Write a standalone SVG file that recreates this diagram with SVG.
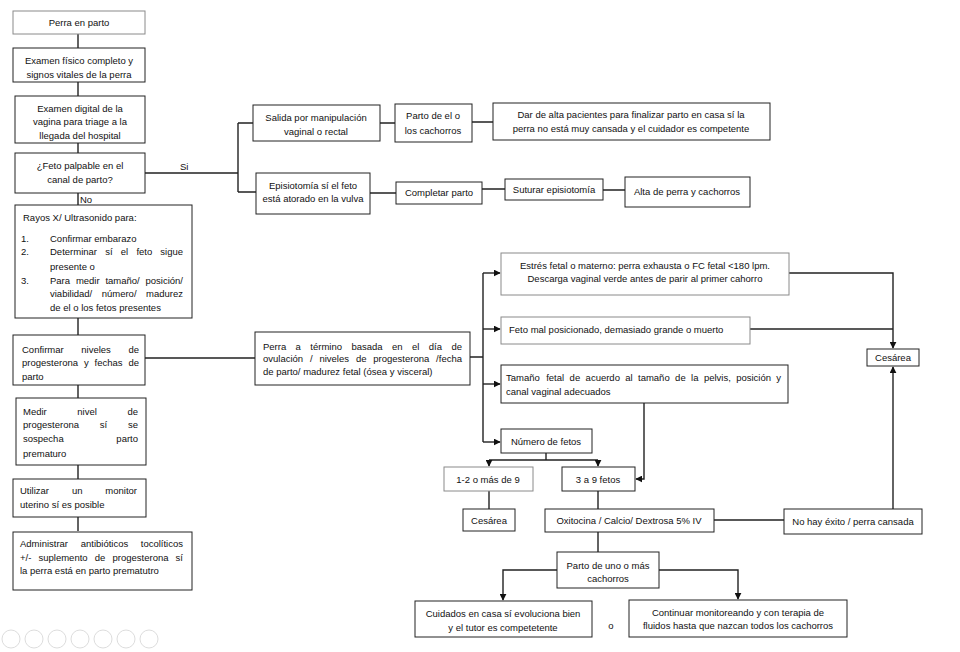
<svg xmlns="http://www.w3.org/2000/svg" width="960" height="652" viewBox="0 0 960 652">
<defs>
<style>
.b{fill:#fff;stroke:#222;stroke-width:1}
.g{fill:#fff;stroke:#8a8a8a;stroke-width:1}
text{font-family:"Liberation Sans",Arial,sans-serif;font-size:9.5px;fill:#111}
.c{text-anchor:middle}
.e{text-anchor:end}
.l{fill:none;stroke:#222;stroke-width:1.4}
.p{fill:#fff;stroke:#ddd;stroke-width:1}
</style>
<marker id="ah" viewBox="0 0 10 10" refX="9" refY="5" markerWidth="5" markerHeight="5" orient="auto"><path d="M0,0 L10,5 L0,10 z" fill="#111"/></marker>
</defs>
<rect width="960" height="652" fill="#fff"/>

<g id="connectors">
<path class="l" d="M78,34V48M78,82V96M78,143V153M78,193V205M78,318V335M78,385V398M78,465V479M78,517V531"/>
<path class="l" d="M145,173H238M238,123V192M238,123H253M238,192H256"/>
<path class="l" d="M380,123H395M472,122H493"/>
<path class="l" d="M370,193H396M482,189H505M603,190H625"/>
<path class="l" d="M145,358H255M470,357H483M483,273V442"/>
<path class="l" d="M483,273H500" marker-end="url(#ah)"/>
<path class="l" d="M483,329H500" marker-end="url(#ah)"/>
<path class="l" d="M483,384H500" marker-end="url(#ah)"/>
<path class="l" d="M483,442H500" marker-end="url(#ah)"/>
<path class="l" d="M789,273H893V348" marker-end="url(#ah)"/>
<path class="l" d="M750,329H893"/>
<path class="l" d="M893,509V367" marker-end="url(#ah)"/>
<path class="l" d="M644,403V479H636" marker-end="url(#ah)"/>
<path class="l" d="M546,453V460M489,460H598"/>
<path class="l" d="M489,460V466" marker-end="url(#ah)"/>
<path class="l" d="M598,460V466" marker-end="url(#ah)"/>
<path class="l" d="M489,491V509M598,491V509M714,520H784M598,532V552"/>
<path class="l" d="M557,570H503V600" marker-end="url(#ah)"/>
<path class="l" d="M659,570H738V599" marker-end="url(#ah)"/>
</g>

<g id="n1"><rect class="g" x="13" y="11" width="132" height="23"/><text class="c" x="79" y="26">Perra en parto</text></g>
<g id="n2"><rect class="b" x="13" y="48" width="132" height="34"/><text class="c" x="79" y="64">Examen físico completo y</text><text class="c" x="79" y="77.5">signos vitales de la perra</text></g>
<g id="n3"><rect class="b" x="15" y="96" width="130" height="47"/><text class="c" x="80" y="111.5">Examen digital de la</text><text class="c" x="80" y="125">vagina para triage a la</text><text class="c" x="80" y="138.5">llegada del hospital</text></g>
<g id="n4"><rect class="b" x="15" y="153" width="130" height="40"/><text class="c" x="80" y="168.5">¿Feto palpable en el</text><text class="c" x="80" y="182.5">canal de parto?</text></g>
<text x="180" y="169.5">Si</text>
<text x="80" y="203">No</text>

<g id="n5"><rect class="b" x="15" y="205" width="177" height="113"/>
<text x="23" y="220.5">Rayos X/ Ultrasonido para:</text>
<text x="21" y="241.5">1.</text><text x="50" y="241.5">Confirmar embarazo</text>
<text x="21" y="254.5">2.</text><text x="50" y="254.5">Determinar</text><text x="105.2" y="254.5">sí</text><text x="120.8" y="254.5">el</text><text x="136.4" y="254.5">feto</text><text class="e" x="183" y="254.5">sigue</text>
<text x="50" y="270">presente o</text>
<text x="21" y="283.5">3.</text><text x="50" y="283.5">Para</text><text x="75.9" y="283.5">medir</text><text x="105.4" y="283.5">tamaño/</text><text class="e" x="183" y="283.5">posición/</text>
<text x="50" y="296.5">viabilidad/</text><text x="101.7" y="296.5">número/</text><text class="e" x="183" y="296.5">madurez</text>
<text x="50" y="311">de el o los fetos presentes</text>
</g>

<g id="n6"><rect class="b" x="13" y="335" width="132" height="50"/>
<text x="22" y="352.5">Confirmar</text><text x="81.3" y="352.5">niveles</text><text class="e" x="139" y="352.5">de</text>
<text x="22" y="366">progesterona</text><text x="83.9" y="366">y</text><text x="94.5" y="366">fechas</text><text class="e" x="139" y="366">de</text>
<text x="22" y="379.5">parto</text>
</g>

<g id="n7"><rect class="b" x="16" y="398" width="130" height="67"/>
<text x="23" y="414.5">Medir</text><text x="77.3" y="414.5">nivel</text><text class="e" x="138" y="414.5">de</text>
<text x="23" y="428">progesterona</text><text x="99.8" y="428">sí</text><text class="e" x="138" y="428">se</text>
<text x="23" y="441.5">sospecha</text><text class="e" x="138" y="441.5">parto</text>
<text x="23" y="456.5">prematuro</text>
</g>

<g id="n8"><rect class="b" x="13" y="479" width="133" height="38"/>
<text x="20" y="493.5">Utilizar</text><text x="71.9" y="493.5">un</text><text class="e" x="137" y="493.5">monitor</text>
<text x="20" y="507.5">uterino sí es posible</text>
</g>

<g id="n9"><rect class="b" x="13" y="532" width="179" height="58"/>
<text x="20" y="546.5">Administrar</text><text x="80.7" y="546.5">antibióticos</text><text class="e" x="183" y="546.5">tocolíticos</text>
<text x="20" y="560.5">+/-</text><text x="38.5" y="560.5">suplemento</text><text x="94.7" y="560.5">de</text><text x="112.5" y="560.5">progesterona</text><text class="e" x="183" y="560.5">sí</text>
<text x="20" y="574">la perra está en parto prematutro</text>
</g>

<g id="n10"><rect class="b" x="253" y="105" width="127" height="36"/><text class="c" x="316" y="120.5">Salida por manipulación</text><text class="c" x="316" y="134.5">vaginal o rectal</text></g>
<g id="n11"><rect class="b" x="256" y="173" width="114" height="41"/><text class="c" x="313" y="188.5">Episiotomía sí el feto</text><text class="c" x="313" y="202">está atorado en la vulva</text></g>
<g id="n12"><rect class="b" x="395" y="104" width="77" height="38"/><text class="c" x="433" y="119">Parto de el o</text><text class="c" x="433" y="133.5">los cachorros</text></g>
<g id="n13"><rect class="b" x="493" y="103" width="277" height="37"/><text class="c" x="631" y="117.5">Dar de alta pacientes para finalizar parto en casa sí la</text><text class="c" x="631" y="131.5">perra no está muy cansada y el cuidador es competente</text></g>
<g id="n14"><rect class="b" x="396" y="182" width="86" height="22"/><text class="c" x="439" y="196">Completar parto</text></g>
<g id="n15"><rect class="b" x="505" y="179" width="98" height="21"/><text class="c" x="554" y="193">Suturar episiotomía</text></g>
<g id="n16"><rect class="b" x="625" y="177" width="125" height="30"/><text class="c" x="687" y="194.5">Alta de perra y cachorros</text></g>

<g id="n17"><rect class="b" x="255" y="332" width="215" height="53"/>
<text x="263" y="349.5">Perra</text><text x="295.6" y="349.5">a</text><text x="310.3" y="349.5">término</text><text x="351.4" y="349.5">basada</text><text x="392" y="349.5">en</text><text x="412" y="349.5">el</text><text x="428.8" y="349.5">día</text><text class="e" x="462" y="349.5">de</text>
<text x="263" y="362">ovulación</text><text x="310" y="362">/</text><text x="319.4" y="362">niveles</text><text x="355.9" y="362">de</text><text x="373.3" y="362">progesterona</text><text class="e" x="462" y="362">/fecha</text>
<text x="263" y="374.5">de parto/ madurez fetal (ósea y visceral)</text>
</g>

<g id="n18"><rect class="g" x="501" y="253" width="288" height="42"/><text class="c" x="645" y="268.5">Estrés fetal o materno: perra exhausta o FC fetal &lt;180 lpm.</text><text class="c" x="645" y="282">Descarga vaginal  verde antes de parir al primer cahorro</text></g>
<g id="n19"><rect class="g" x="501" y="317" width="249" height="27"/><text x="509" y="333">Feto mal posicionado, demasiado grande o muerto</text></g>
<g id="n20"><rect class="b" x="501" y="365" width="287" height="38"/>
<text x="506" y="380.5">Tamaño</text><text x="546.2" y="380.5">fetal</text><text x="569.6" y="380.5">de</text><text x="585.6" y="380.5">acuerdo</text><text x="625.2" y="380.5">al</text><text x="638" y="380.5">tamaño</text><text x="675.1" y="380.5">de</text><text x="691.1" y="380.5">la</text><text x="703.9" y="380.5">pelvis,</text><text x="736.2" y="380.5">posición</text><text class="e" x="781" y="380.5">y</text>
<text x="506" y="394.5">canal vaginal adecuados</text>
</g>
<g id="n21"><rect class="b" x="867" y="349" width="52" height="17"/><text class="c" x="893" y="361">Cesárea</text></g>
<g id="n22"><rect class="b" x="501" y="429" width="91" height="24"/><text class="c" x="546" y="444.5">Número de fetos</text></g>
<g id="n23"><rect class="g" x="444" y="467" width="89" height="24"/><text class="c" x="488" y="482.5">1-2 o más de 9</text></g>
<g id="n24"><rect class="b" x="562" y="467" width="73" height="24"/><text class="c" x="598" y="482.5">3 a 9 fetos</text></g>
<g id="n25"><rect class="b" x="463" y="509" width="52" height="22"/><text class="c" x="489" y="523.5">Cesárea</text></g>
<g id="n26"><rect class="b" x="545" y="509" width="169" height="23"/><text class="c" x="629" y="524">Oxitocina / Calcio/ Dextrosa 5% IV</text></g>
<g id="n27"><rect class="b" x="784" y="509" width="138" height="25"/><text class="c" x="853" y="524.5">No hay éxito / perra cansada</text></g>
<g id="n28"><rect class="b" x="557" y="552" width="102" height="36"/><text class="c" x="608" y="568.5">Parto de uno o más</text><text class="c" x="608" y="582">cachorros</text></g>
<g id="n29"><rect class="b" x="415" y="601" width="177" height="36"/><text class="c" x="503" y="616.5">Cuidados en casa sí evoluciona bien</text><text class="c" x="503" y="630.5">y el tutor es competetente</text></g>
<text class="c" x="611" y="628.5">o</text>
<g id="n30"><rect class="b" x="629" y="600" width="218" height="37"/><text class="c" x="738" y="615.5">Continuar monitoreando y con terapia de</text><text class="c" x="738" y="629">fluidos hasta que nazcan todos los cachorros</text></g>

<g id="player">
<circle class="p" cx="11" cy="639" r="9"/><circle class="p" cx="34" cy="639" r="9"/><circle class="p" cx="57" cy="639" r="9"/><circle class="p" cx="80" cy="639" r="9"/><circle class="p" cx="103" cy="639" r="9"/><circle class="p" cx="126" cy="639" r="9"/><circle class="p" cx="149" cy="639" r="9"/>
</g>
</svg>
